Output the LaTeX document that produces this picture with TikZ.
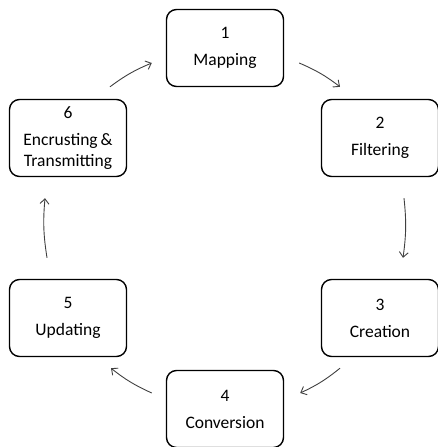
\documentclass[tikz,border=0pt]{standalone}
\usepackage{fontspec}
\setmainfont{Carlito}
\usetikzlibrary{arrows.meta}
\definecolor{arrowgray}{RGB}{64,64,64}

\tikzset{
  stage/.style={draw, line width=1.4pt, rounded corners=10pt, minimum width=117pt,
    minimum height=77pt, align=center, font=\fontsize{17.5}{21}\selectfont},
  flow/.style={-{Straight Barb[length=5pt,width=9pt]}, draw=arrowgray, line width=0.9pt}
}

\begin{document}
\begin{tikzpicture}[x=1pt,y=1pt]
\useasboundingbox (0,0) rectangle (438,447);
\node[stage] (map) at (225,399) {1\\[6pt]Mapping};
\node[stage] (filt) at (380,309) {2\\[6pt]Filtering};
\node[stage] (crea) at (380,129) {3\\[6pt]Creation};
\node[stage] (conv) at (225,38) {4\\[6pt]Conversion};
\node[stage] (upd) at (68,129) {5\\[6pt]Updating};
\node[stage] (enc) at (68,309) {6\\[6pt]Encrusting\,\&\\Transmitting};
\draw[flow] ([shift={(15,-15)}]map.east) to[bend left=7] ([shift={(-40,12)}]filt.north);
\draw[flow] ([shift={(24,-21)}]filt.south) to[bend left=7] ([shift={(23,21)}]crea.north);
\draw[flow] ([shift={(-40,-11)}]crea.south) to[bend left=7] ([shift={(16,16)}]conv.east);
\draw[flow] ([shift={(-14,16)}]conv.west) to[bend left=7] ([shift={(43,-11)}]upd.south);
\draw[flow] ([shift={(-21,21)}]upd.north) to[bend left=7] ([shift={(-23,-21)}]enc.south);
\draw[flow] ([shift={(42,12)}]enc.north) to[bend left=7] ([shift={(-14,-15)}]map.west);
\end{tikzpicture}
\end{document}
